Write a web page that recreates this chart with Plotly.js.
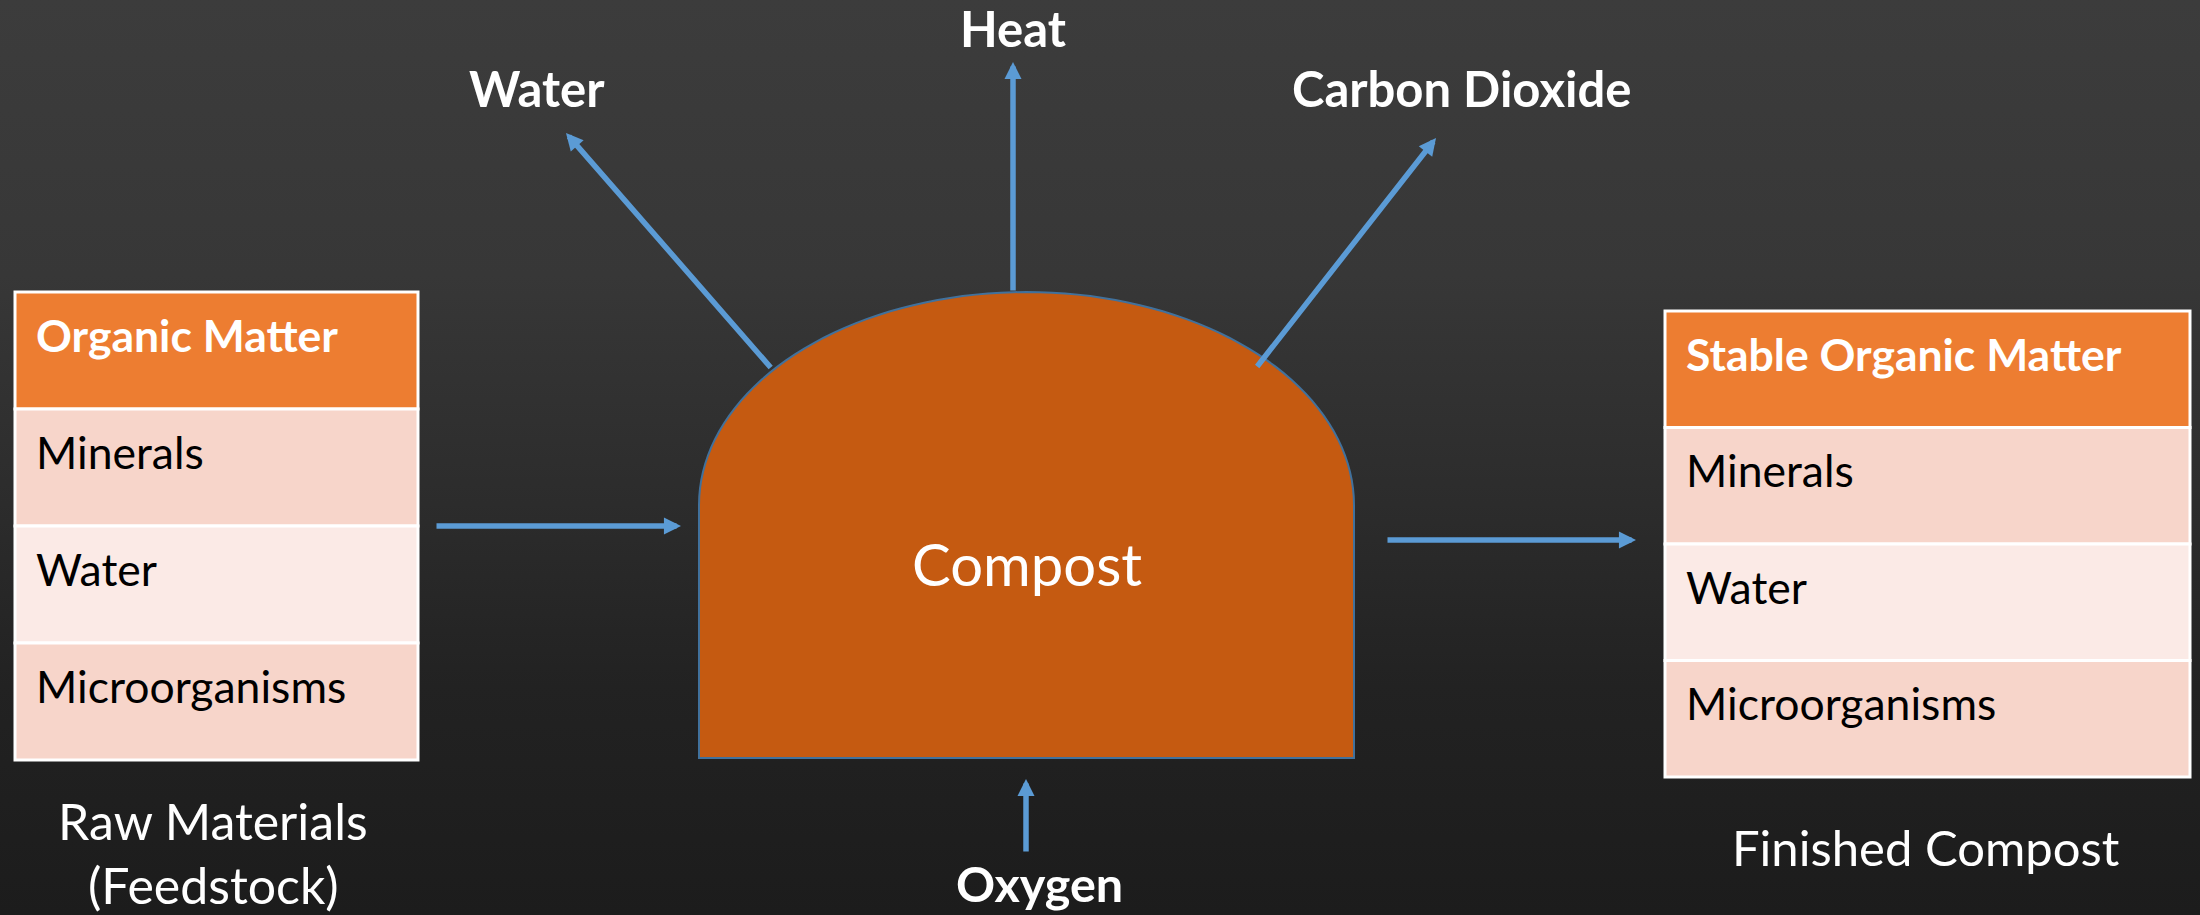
<!DOCTYPE html>
<html><head><meta charset="utf-8">
<script src="https://cdn.plot.ly/plotly-3.0.1.min.js"></script>
<style>
html,body{margin:0;padding:0;background:#262626;}
#chart{width:2200px;height:915px;background:linear-gradient(180deg,#3c3c3c 0%,#373737 30%,#2c2c2c 55%,#222 75%,#1c1c1c 100%);}
</style></head><body><div id="chart"></div>
<script>
// ---- content ----
const rawHeader = "Organic Matter";
const rawRows = ["Minerals", "Water", "Microorganisms"];
const finHeader = "Stable Organic Matter";
const finRows = ["Minerals", "Water", "Microorganisms"];
const centerLabel = "Compost";
const outputLabels = ["Water", "Heat", "Carbon Dioxide"];
const inputLabel = "Oxygen";
const rawCaption = ["Raw Materials", "(Feedstock)"];
const finCaption = ["Finished Compost"];

// ---- styles ----
const FONT = "Lato, 'Open Sans', sans-serif";
const ORANGE = "#ED7D31";
const ROW_DARK = "#F7D5CA";
const ROW_LIGHT = "#FBEAE6";
const ARROW = "#5B9BD5";
const COMPOST = "#C55A11";

const shapes = [];
const annotations = [];

function table(x0, x1, top, rowH, header, rows) {
  const all = [header].concat(rows);
  all.forEach((label, i) => {
    const y0 = top + i * rowH, y1 = y0 + rowH;
    const fill = i === 0 ? ORANGE : (i % 2 === 1 ? ROW_DARK : ROW_LIGHT);
    shapes.push({type: "rect", xref: "x", yref: "y", x0: x0, x1: x1, y0: y0, y1: y1,
      fillcolor: fill, line: {color: "#FFFFFF", width: 3}, layer: "above"});
    annotations.push({xref: "x", yref: "y", x: x0 + 19, y: y0 + 42, xanchor: "left", yanchor: "middle",
      text: i === 0 ? "<b>" + label + "</b>" : label, showarrow: false,
      font: {family: FONT, size: 44.5, color: i === 0 ? "#FFFFFF" : "#000000"}});
  });
}
table(15, 418, 292, 117, rawHeader, rawRows);
table(1665, 2190, 311, 116.5, finHeader, finRows);

// compost dome
(function () {
  const xl = 699, xr = 1354, yb = 758, cy = 505, ry = 213;
  const cx = (xl + xr) / 2, rx = (xr - xl) / 2;
  let p = "M " + xl + " " + yb + " L " + xl + " " + cy;
  for (let k = 1; k <= 80; k++) {
    const t = Math.PI - Math.PI * k / 80;
    p += " L " + (cx + rx * Math.cos(t)).toFixed(2) + " " + (cy - ry * Math.sin(t)).toFixed(2);
  }
  p += " L " + xr + " " + yb + " Z";
  shapes.push({type: "path", xref: "x", yref: "y", path: p, fillcolor: COMPOST,
    line: {color: "#41719C", width: 2}, layer: "above"});
  annotations.push({xref: "x", yref: "y", x: cx, y: 563, text: centerLabel, showarrow: false,
    font: {family: FONT, size: 58, color: "#FFFFFF"}});
})();

// arrows: [tailX, tailY, tipX, tipY]
const arrows = [
  [435, 526, 681, 526],
  [1386, 540, 1636, 540],
  [772, 369, 566, 133],
  [1013, 292, 1013, 62],
  [1256, 368, 1436, 138],
  [1026, 853, 1026, 779]
];
arrows.forEach(a => {
  annotations.push({xref: "x", yref: "y", axref: "x", ayref: "y", x: a[2], y: a[3], ax: a[0], ay: a[1],
    text: "", showarrow: true, arrowhead: 2, arrowsize: 0.62, arrowwidth: 5.5, arrowcolor: ARROW, standoff: 0});
});

// output labels
const outPos = [[537, 88], [1013, 28], [1461, 88]];
outputLabels.forEach((t, i) => {
  annotations.push({xref: "x", yref: "y", x: outPos[i][0], y: outPos[i][1], text: "<b>" + t + "</b>",
    showarrow: false, font: {family: FONT, size: 49, color: "#FFFFFF"}});
});
annotations.push({xref: "x", yref: "y", x: 1039, y: 883, text: "<b>" + inputLabel + "</b>",
  showarrow: false, font: {family: FONT, size: 48.5, color: "#FFFFFF"}});

rawCaption.forEach((t, i) => {
  annotations.push({xref: "x", yref: "y", x: 213, y: 821 + i * 64, text: t, showarrow: false,
    font: {family: FONT, size: 50, color: "#FFFFFF"}});
});
finCaption.forEach((t, i) => {
  annotations.push({xref: "x", yref: "y", x: 1926, y: 847 + i * 68, text: t, showarrow: false,
    font: {family: FONT, size: 49, color: "#FFFFFF"}});
});

const layout = {
  width: 2200, height: 915,
  margin: {l: 0, r: 0, t: 0, b: 0},
  paper_bgcolor: "rgba(0,0,0,0)", plot_bgcolor: "rgba(0,0,0,0)",
  xaxis: {range: [0, 2200], visible: false, fixedrange: true},
  yaxis: {range: [915, 0], visible: false, fixedrange: true},
  showlegend: false,
  shapes: shapes, annotations: annotations
};
Plotly.newPlot("chart", [], layout, {staticPlot: true, displayModeBar: false});
</script></body></html>
